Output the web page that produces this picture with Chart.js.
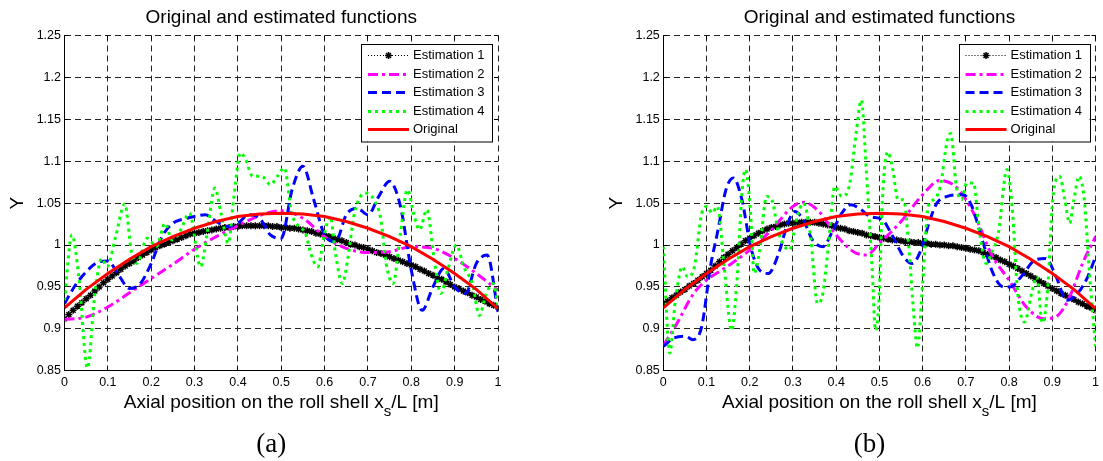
<!DOCTYPE html>
<html>
<head>
<meta charset="utf-8">
<script src="https://cdn.jsdelivr.net/npm/chart.js@4.4.0/dist/chart.umd.min.js"></script>
<style>
  html, body { margin: 0; padding: 0; background: #fff; }
  #wrap { position: relative; width: 1103px; height: 461px; overflow: hidden; }
  canvas { position: absolute; top: 0; }
  #chartA { left: 0; }
  #chartB { left: 551px; }
</style>
</head>
<body>
<div id="wrap">
  <canvas id="chartA" width="551" height="461"></canvas>
  <canvas id="chartB" width="552" height="461"></canvas>
</div>
<script>
const seriesNames = ["Estimation 1", "Estimation 2", "Estimation 3", "Estimation 4", "Original"];
const xTicks = [0, 0.1, 0.2, 0.3, 0.4, 0.5, 0.6, 0.7, 0.8, 0.9, 1];
const yTicks = [0.85, 0.9, 0.95, 1, 1.05, 1.1, 1.15, 1.2, 1.25];

// original profile (same in both panels)
const origX = [0, 0.05, 0.1, 0.15, 0.2, 0.25, 0.3, 0.35, 0.4, 0.45, 0.5, 0.55, 0.6, 0.65, 0.7, 0.75, 0.8, 0.85, 0.9, 0.95, 1];
const origY = [0.925, 0.947, 0.966, 0.983, 0.998, 1.010, 1.020, 1.028, 1.034, 1.037, 1.038, 1.037, 1.034, 1.028, 1.020, 1.010, 0.998, 0.983, 0.966, 0.947, 0.924];

// estimation 1, one sample every 0.01
const est1X = [0, 0.01, 0.02, 0.03, 0.04, 0.05, 0.06, 0.07, 0.08, 0.09, 0.1, 0.11, 0.12, 0.13, 0.14, 0.15, 0.16, 0.17, 0.18, 0.19,
  0.2, 0.21, 0.22, 0.23, 0.24, 0.25, 0.26, 0.27, 0.28, 0.29, 0.3, 0.31, 0.32, 0.33, 0.34, 0.35, 0.36, 0.37, 0.38, 0.39,
  0.4, 0.41, 0.42, 0.43, 0.44, 0.45, 0.46, 0.47, 0.48, 0.49, 0.5, 0.51, 0.52, 0.53, 0.54, 0.55, 0.56, 0.57, 0.58, 0.59,
  0.6, 0.61, 0.62, 0.63, 0.64, 0.65, 0.66, 0.67, 0.68, 0.69, 0.7, 0.71, 0.72, 0.73, 0.74, 0.75, 0.76, 0.77, 0.78, 0.79,
  0.8, 0.81, 0.82, 0.83, 0.84, 0.85, 0.86, 0.87, 0.88, 0.89, 0.9, 0.91, 0.92, 0.93, 0.94, 0.95, 0.96, 0.97, 0.98, 0.99, 1];
const est1A = [0.912, 0.917, 0.922, 0.927, 0.931, 0.936, 0.940, 0.945, 0.950, 0.955, 0.959, 0.963, 0.967, 0.971, 0.975, 0.978, 0.981, 0.985, 0.988, 0.991,
  0.994, 0.997, 0.999, 1.001, 1.003, 1.005, 1.007, 1.009, 1.011, 1.013, 1.014, 1.015, 1.016, 1.017, 1.018, 1.019, 1.020, 1.021, 1.021, 1.022,
  1.022, 1.023, 1.023, 1.023, 1.023, 1.023, 1.023, 1.023, 1.022, 1.022, 1.021, 1.021, 1.020, 1.020, 1.019, 1.018, 1.017, 1.016, 1.014, 1.013,
  1.011, 1.010, 1.008, 1.007, 1.005, 1.003, 1.001, 1.000, 0.998, 0.997, 0.995, 0.993, 0.991, 0.990, 0.988, 0.986, 0.984, 0.982, 0.980, 0.978,
  0.976, 0.974, 0.971, 0.969, 0.966, 0.964, 0.961, 0.959, 0.956, 0.953, 0.950, 0.948, 0.945, 0.943, 0.940, 0.938, 0.935, 0.933, 0.930, 0.928, 0.926];
const est1B = [0.930, 0.933, 0.937, 0.940, 0.944, 0.947, 0.951, 0.954, 0.958, 0.962, 0.966, 0.970, 0.975, 0.980, 0.985, 0.989, 0.993, 0.997, 1.001, 1.005,
  1.008, 1.011, 1.014, 1.017, 1.019, 1.021, 1.022, 1.024, 1.025, 1.026, 1.026, 1.027, 1.027, 1.027, 1.027, 1.027, 1.026, 1.025, 1.024, 1.023,
  1.021, 1.020, 1.019, 1.017, 1.016, 1.015, 1.014, 1.012, 1.011, 1.010, 1.009, 1.008, 1.007, 1.006, 1.006, 1.005, 1.004, 1.004, 1.003, 1.003,
  1.002, 1.002, 1.001, 1.001, 1.000, 1.000, 0.999, 0.999, 0.998, 0.997, 0.996, 0.995, 0.994, 0.993, 0.991, 0.989, 0.987, 0.985, 0.982, 0.980,
  0.977, 0.975, 0.972, 0.969, 0.966, 0.963, 0.960, 0.957, 0.954, 0.951, 0.948, 0.945, 0.942, 0.940, 0.937, 0.935, 0.932, 0.930, 0.927, 0.925, 0.922];

// estimation 2
const est2AX = [0, 0.05, 0.1, 0.15, 0.2, 0.25, 0.3, 0.35, 0.4, 0.45, 0.5, 0.55, 0.6, 0.65, 0.7, 0.75, 0.8, 0.85, 0.9, 0.95, 1];
const est2AY = [0.911, 0.914, 0.926, 0.943, 0.960, 0.977, 0.995, 1.010, 1.023, 1.035, 1.041, 1.032, 1.010, 0.996, 0.991, 0.992, 0.998, 0.996, 0.984, 0.966, 0.946];
const est2BX = [0, 0.03, 0.07, 0.1, 0.15, 0.2, 0.25, 0.3, 0.325, 0.36, 0.4, 0.44, 0.47, 0.5, 0.55, 0.6, 0.64, 0.68, 0.72, 0.76, 0.8, 0.84, 0.88, 0.91, 0.94, 0.97, 1];
const est2BY = [0.880, 0.905, 0.942, 0.958, 0.975, 0.994, 1.018, 1.046, 1.051, 1.040, 1.012, 0.992, 0.988, 1.002, 1.028, 1.060, 1.077, 1.068, 1.036, 0.988, 0.958, 0.926, 0.912, 0.915, 0.938, 0.978, 1.010];

// estimation 3
const est3AX = [0, 0.025, 0.05, 0.075, 0.1, 0.125, 0.15, 0.175, 0.2, 0.225, 0.25, 0.275, 0.3, 0.325, 0.35, 0.375, 0.4, 0.425, 0.45, 0.475,
  0.5, 0.525, 0.55, 0.575, 0.6, 0.625, 0.65, 0.675, 0.7, 0.725, 0.75, 0.775, 0.8, 0.825, 0.85, 0.875, 0.9, 0.925, 0.95, 0.975, 1];
const est3AY = [0.930, 0.952, 0.968, 0.979, 0.981, 0.964, 0.948, 0.954, 0.978, 1.010, 1.026, 1.031, 1.034, 1.036, 1.028, 1.022, 1.026, 1.036, 1.032, 1.012,
  1.008, 1.066, 1.094, 1.054, 1.012, 1.004, 1.036, 1.044, 1.036, 1.058, 1.076, 1.046, 0.970, 0.922, 0.950, 0.972, 0.950, 0.942, 0.978, 0.988, 0.920];
const est3BX = [0, 0.024, 0.052, 0.068, 0.089, 0.109, 0.125, 0.145, 0.162, 0.182, 0.202, 0.223, 0.243, 0.267, 0.288, 0.304, 0.324, 0.345, 0.369, 0.393,
  0.413, 0.434, 0.458, 0.478, 0.507, 0.531, 0.556, 0.576, 0.596, 0.617, 0.633, 0.657, 0.694, 0.714, 0.738, 0.763, 0.787, 0.803, 0.828, 0.86,
  0.885, 0.909, 0.933, 0.958, 0.982, 1];
const est3BY = [0.879, 0.889, 0.891, 0.887, 0.903, 0.974, 1.014, 1.066, 1.080, 1.054, 0.998, 0.970, 0.966, 0.990, 1.026, 1.040, 1.030, 1.006, 0.998, 1.018,
  1.038, 1.048, 1.042, 1.034, 1.030, 1.010, 0.986, 0.978, 0.994, 1.030, 1.050, 1.058, 1.060, 1.046, 1.006, 0.966, 0.950, 0.950, 0.962, 0.982,
  0.984, 0.962, 0.934, 0.942, 0.962, 0.986];

// estimation 4
const est4AX = [0, 0.017, 0.033, 0.053, 0.07, 0.086, 0.098, 0.118, 0.139, 0.155, 0.167, 0.191, 0.212, 0.232, 0.248, 0.268, 0.288, 0.314, 0.329, 0.347,
  0.361, 0.378, 0.39, 0.406, 0.418, 0.434, 0.455, 0.475, 0.491, 0.507, 0.524, 0.54, 0.556, 0.568, 0.584, 0.6, 0.613, 0.625, 0.641, 0.653,
  0.669, 0.694, 0.714, 0.73, 0.742, 0.758, 0.775, 0.791, 0.807, 0.819, 0.836, 0.852, 0.868, 0.884, 0.904, 0.921, 0.941, 0.957, 0.973, 0.989, 1];
const est4AY = [0.934, 1.012, 0.962, 0.853, 0.942, 0.984, 0.974, 1.010, 1.049, 0.990, 0.978, 1.008, 0.998, 1.026, 1.006, 1.018, 1.038, 0.974, 1.014, 1.068,
  1.038, 1.002, 1.054, 1.110, 1.102, 1.082, 1.082, 1.072, 1.082, 1.092, 1.038, 1.022, 1.014, 0.990, 0.974, 1.014, 1.034, 0.990, 0.954, 0.982,
  1.038, 1.062, 1.054, 1.030, 0.978, 0.954, 1.014, 1.066, 1.034, 1.018, 1.042, 0.986, 0.942, 0.970, 1.000, 0.974, 0.954, 0.916, 0.942, 0.954, 0.928];
const est4BX = [0, 0.015, 0.028, 0.044, 0.056, 0.072, 0.089, 0.101, 0.113, 0.125, 0.141, 0.158, 0.17, 0.182, 0.19, 0.202, 0.21, 0.223, 0.239, 0.251,
  0.267, 0.292, 0.308, 0.324, 0.34, 0.357, 0.369, 0.381, 0.397, 0.413, 0.43, 0.446, 0.458, 0.47, 0.483, 0.491, 0.499, 0.507, 0.519, 0.531,
  0.543, 0.556, 0.568, 0.58, 0.588, 0.6, 0.613, 0.625, 0.641, 0.657, 0.665, 0.678, 0.69, 0.702, 0.718, 0.73, 0.747, 0.759, 0.775, 0.795,
  0.807, 0.82, 0.836, 0.852, 0.864, 0.877, 0.889, 0.901, 0.917, 0.929, 0.94, 0.95, 0.962, 0.974, 0.986, 1];
const est4BY = [0.998, 0.871, 0.934, 0.974, 0.962, 0.974, 1.038, 1.046, 1.038, 1.046, 0.974, 0.898, 0.954, 1.062, 1.090, 1.038, 0.966, 0.994, 1.058, 1.054,
  1.014, 0.994, 1.030, 1.050, 1.014, 0.930, 0.942, 0.994, 1.070, 1.058, 1.070, 1.133, 1.173, 1.086, 0.974, 0.898, 0.934, 1.054, 1.111, 1.090,
  1.054, 1.054, 0.998, 0.914, 0.877, 0.954, 1.046, 1.054, 1.070, 1.125, 1.133, 1.070, 1.054, 1.074, 1.074, 1.022, 0.978, 0.990, 1.014, 1.090,
  1.046, 0.942, 0.908, 0.942, 0.962, 0.907, 0.946, 1.054, 1.082, 1.054, 1.026, 1.054, 1.082, 1.054, 0.966, 0.879];

const FONT = "'Liberation Sans', Arial, Helvetica, sans-serif";

function pts(xs, ys) {
  return xs.map((x, i) => ({ x: x, y: ys[i] }));
}

function buildDatasets(e1, e2x, e2y, e3x, e3y, e4x, e4y) {
  return [
    { label: seriesNames[0], data: pts(est1X, e1), order: 5,
      borderColor: '#000', borderWidth: 1, borderDash: [1, 2], tension: 0,
      pointStyle: 'star', pointRadius: 3.5, pointBorderColor: '#000', pointBorderWidth: 1.5 },
    { label: seriesNames[1], data: pts(e2x, e2y), order: 4,
      borderColor: '#ff00ff', borderWidth: 3, borderDash: [10, 4, 3, 4], cubicInterpolationMode: 'monotone', pointRadius: 0 },
    { label: seriesNames[2], data: pts(e3x, e3y), order: 3,
      borderColor: '#0000ff', borderWidth: 3, borderDash: [9, 5], cubicInterpolationMode: 'monotone', pointRadius: 0 },
    { label: seriesNames[3], data: pts(e4x, e4y), order: 2,
      borderColor: '#00ff00', borderWidth: 3, borderDash: [3, 4], cubicInterpolationMode: 'monotone', pointRadius: 0 },
    { label: seriesNames[4], data: pts(origX, origY), order: 1,
      borderColor: '#ff0000', borderWidth: 3, tension: 0, pointRadius: 0 }
  ];
}

function drawStar(ctx, x, y, r) {
  ctx.beginPath();
  ctx.moveTo(x - r, y); ctx.lineTo(x + r, y);
  ctx.moveTo(x, y - r); ctx.lineTo(x, y + r);
  const d = r * 0.707;
  ctx.moveTo(x - d, y - d); ctx.lineTo(x + d, y + d);
  ctx.moveTo(x - d, y + d); ctx.lineTo(x + d, y - d);
  ctx.stroke();
}

// titles, inward ticks, legend box and panel letter
const panelDecor = {
  id: 'panelDecor',
  beforeDatasetsDraw(chart) {
    const { ctx, chartArea: a, scales: { x, y } } = chart;
    const al = p => Math.round(p - 0.5) + 0.5;
    ctx.save();
    ctx.strokeStyle = '#000';
    ctx.lineWidth = 1;
    ctx.beginPath();
    xTicks.forEach(v => {
      const px = al(x.getPixelForValue(v));
      ctx.moveTo(px, a.bottom); ctx.lineTo(px, a.bottom - 4);
      ctx.moveTo(px, a.top); ctx.lineTo(px, a.top + 4);
    });
    yTicks.forEach(v => {
      const py = al(y.getPixelForValue(v));
      ctx.moveTo(a.left, py); ctx.lineTo(a.left + 4, py);
      ctx.moveTo(a.right, py); ctx.lineTo(a.right - 4, py);
    });
    ctx.stroke();
    ctx.restore();
  },
  afterDraw(chart, args, opts) {
    const { ctx, chartArea: a } = chart;
    const cx = (a.left + a.right) / 2;
    ctx.save();
    ctx.fillStyle = '#000';
    ctx.textBaseline = 'middle';

    ctx.textAlign = 'center';
    ctx.font = '19px ' + FONT;
    ctx.fillText('Original and estimated functions', cx, 18);

    // y label
    ctx.save();
    ctx.translate(a.left - 46.5, (a.top + a.bottom) / 2);
    ctx.rotate(-Math.PI / 2);
    ctx.fillText('Y', 0, 0);
    ctx.restore();

    // x label with subscript
    const p1 = 'Axial position on the roll shell x', sub = 's', p2 = '/L [m]';
    ctx.font = '19px ' + FONT;
    const w1 = ctx.measureText(p1).width, w2 = ctx.measureText(p2).width;
    ctx.font = '15px ' + FONT;
    const ws = ctx.measureText(sub).width;
    const sx = cx - (w1 + ws + w2) / 2;
    ctx.textAlign = 'left';
    ctx.font = '19px ' + FONT;
    ctx.fillText(p1, sx, 403);
    ctx.font = '15px ' + FONT;
    ctx.fillText(sub, sx + w1, 411.5);
    ctx.font = '19px ' + FONT;
    ctx.fillText(p2, sx + w1 + ws, 403);

    // panel letter
    ctx.textAlign = 'center';
    ctx.font = '27px "Liberation Serif", "Times New Roman", serif';
    ctx.fillText(opts.letter, cx - 10, 445);

    // legend
    const L = a.right - 137, T = 43.5, W = 131, H = 97.5;
    ctx.fillStyle = '#fff';
    ctx.fillRect(L, T, W, H);
    ctx.strokeStyle = '#000';
    ctx.lineWidth = 1;
    ctx.strokeRect(Math.round(L) + 0.5, Math.round(T) + 0.5, W, H);
    ctx.font = '13px ' + FONT;
    ctx.textAlign = 'left';
    chart.data.datasets.forEach((ds, i) => {
      const ry = Math.round(T + 11.5 + i * 18.6) + 0.5;
      ctx.save();
      ctx.strokeStyle = ds.borderColor;
      ctx.lineWidth = ds.borderWidth;
      ctx.setLineDash(ds.borderDash || []);
      ctx.beginPath();
      ctx.moveTo(L + 7, ry);
      ctx.lineTo(L + 48, ry);
      ctx.stroke();
      ctx.setLineDash([]);
      if (ds.pointRadius) {
        ctx.lineWidth = 1.5;
        drawStar(ctx, L + 27.5, ry, 3.5);
      }
      ctx.restore();
      ctx.fillStyle = '#000';
      ctx.fillText(ds.label, L + 52, ry);
    });
    ctx.restore();
  }
};

function makeChart(id, datasets, yAxisWidth, padRight, letter) {
  return new Chart(document.getElementById(id), {
    type: 'line',
    data: { datasets: datasets },
    options: {
      responsive: false,
      animation: false,
      events: [],
      layout: { padding: { left: 0, right: padRight, top: 35.5, bottom: 68.3 } },
      plugins: {
        legend: { display: false },
        tooltip: { enabled: false },
        title: { display: false },
        panelDecor: { letter: letter }
      },
      scales: {
        x: {
          type: 'linear', min: 0, max: 1,
          afterBuildTicks: s => { s.ticks = xTicks.map(v => ({ value: v })); },
          afterFit: s => { s.height = 22; },
          ticks: { autoSkip: false, maxRotation: 0, padding: 4, color: '#000', font: { size: 12.5, family: FONT },
            callback: v => String(v) },
          grid: { color: '#222', lineWidth: 1, drawTicks: false },
          border: { display: true, color: '#000', width: 1, dash: [6, 4] }
        },
        y: {
          type: 'linear', min: 0.85, max: 1.25,
          afterBuildTicks: s => { s.ticks = yTicks.map(v => ({ value: v })); },
          afterFit: s => { s.width = yAxisWidth; },
          ticks: { autoSkip: false, padding: 3.5, color: '#000', font: { size: 12.5, family: FONT },
            callback: v => String(v) },
          grid: { color: '#222', lineWidth: 1, drawTicks: false },
          border: { display: true, color: '#000', width: 1, dash: [6, 4] }
        }
      }
    },
    plugins: [panelDecor]
  });
}

makeChart('chartA', buildDatasets(est1A, est2AX, est2AY, est3AX, est3AY, est4AX, est4AY), 64.5, 53, '(a)');
makeChart('chartB', buildDatasets(est1B, est2BX, est2BY, est3BX, est3BY, est4BX, est4BY), 112.3, 6.4, '(b)');
</script>
</body>
</html>
